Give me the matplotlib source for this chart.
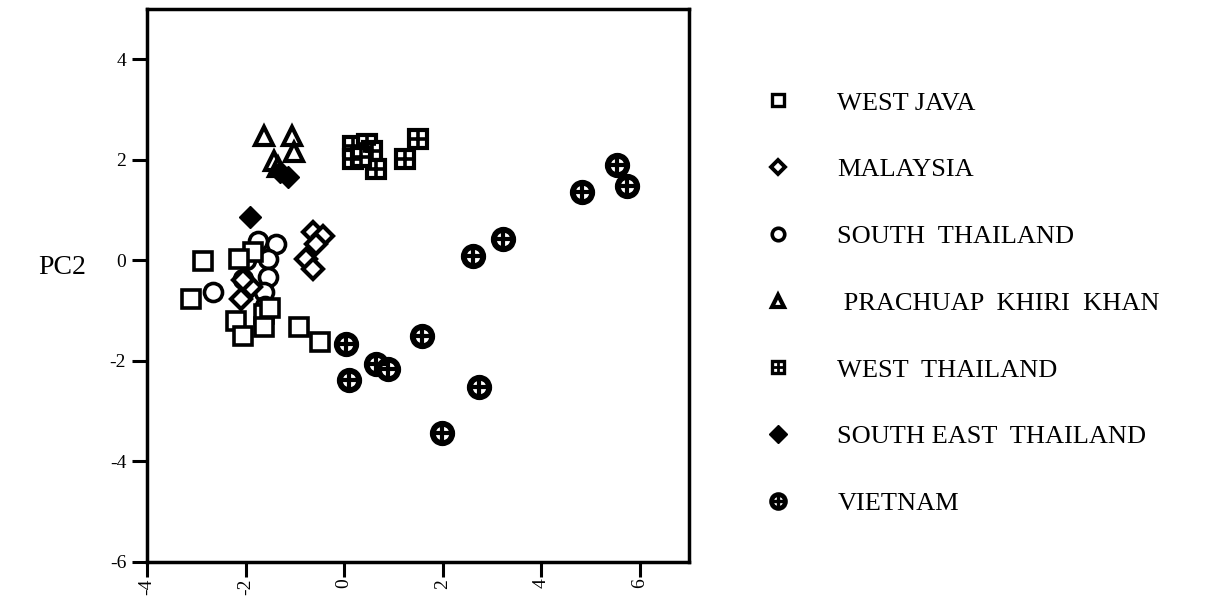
import matplotlib
matplotlib.use("Agg")
import matplotlib.pyplot as plt
from matplotlib.lines import Line2D

plt.rcParams['font.family'] = ['Liberation Serif', 'DejaVu Serif']
plt.rcParams['axes.unicode_minus'] = False

# PCA scores (PC1, PC2)
west_java_x = [-2.87, -3.11, -1.85, -2.14, -2.20, -2.06, -1.63, -1.63, -1.50, -0.92, -0.48]
west_java_y = [-0.01, -0.77, 0.17, 0.03, -1.21, -1.51, -1.07, -1.33, -0.95, -1.33, -1.63]

malaysia_x = [-0.64, -0.42, -0.58, -0.78, -0.64, -1.89, -2.10, -2.05]
malaysia_y = [0.57, 0.49, 0.33, 0.03, -0.17, -0.53, -0.77, -0.40]

south_thailand_x = [-1.75, -1.39, -1.55, -2.06, -1.55, -1.63, -2.66, -2.00, -1.60]
south_thailand_y = [0.39, 0.33, 0.03, -0.37, -0.33, -0.63, -0.63, 0.00, -0.90]

prachuap_x = [-1.63, -1.06, -1.02, -1.43, -1.35]
prachuap_y = [2.48, 2.48, 2.16, 1.98, 1.86]

west_thailand_x = [0.19, 0.19, 0.47, 0.57, 0.64, 1.24, 1.51, 0.35]
west_thailand_y = [2.28, 2.02, 2.32, 2.18, 1.82, 2.02, 2.42, 2.05]

se_thailand_x = [-1.13, -1.30, -1.91]
se_thailand_y = [1.66, 1.75, 0.87]

vietnam_x = [0.03, 0.09, 0.64, 0.90, 1.59, 2.74, 1.99, 2.62, 3.23, 4.83, 5.53, 5.74]
vietnam_y = [-1.67, -2.37, -2.07, -2.17, -1.51, -2.51, -3.43, 0.09, 0.43, 1.37, 1.90, 1.47]

tick_vals = [-6, -4, -2, 0, 2, 4, 6]
tick_text = ['-6', '-4', '-2', '0', '2', '4', '6']

labels = ["WEST JAVA", "MALAYSIA", "SOUTH  THAILAND", " PRACHUAP  KHIRI  KHAN",
          "WEST  THAILAND", "SOUTH EAST  THAILAND", "VIETNAM"]

fig = plt.figure(figsize=(12.22, 6.03), dpi=100)
ax = fig.add_axes([0.1203, 0.068, 0.4435, 0.917])

k = dict(linestyle='none', color='black', markerfacecolor='white', markeredgecolor='black')
ms = 13

ax.plot(south_thailand_x, south_thailand_y, marker='o', ms=ms, mew=2.6, **k)
ax.plot(malaysia_x, malaysia_y, marker='D', ms=10, mew=3.0, **k)
ax.plot(west_java_x, west_java_y, marker='s', ms=ms, mew=2.6, **k)
ax.plot(prachuap_x, prachuap_y, marker='^', ms=ms, mew=3.0, **k)
ax.plot(west_thailand_x, west_thailand_y, marker='s', ms=ms, mew=3.0, **k)
ax.plot(west_thailand_x, west_thailand_y, marker='+', ms=ms, mew=2.6, linestyle='none', color='black')
ax.plot(se_thailand_x, se_thailand_y, marker='D', ms=11, linestyle='none', color='black')
ax.plot(vietnam_x, vietnam_y, marker='o', ms=14, mew=4.2, **k)
ax.plot(vietnam_x, vietnam_y, marker='+', ms=14, mew=3.0, linestyle='none', color='black')

ax.set_xlim(-4, 7)
ax.set_ylim(-6, 5)
ax.set_xticks(tick_vals[1:])
ax.set_yticks(tick_vals[:-1])
ax.set_xticklabels(tick_text[1:], rotation=90)
ax.set_yticklabels(tick_text[:-1])
for s in ax.spines.values():
    s.set_linewidth(2.5)
ax.tick_params(direction='out', length=11, width=2.2, labelsize=14)
ax.tick_params(axis='x', pad=1)
ax.tick_params(axis='y', pad=4)

fig.text(62 / 1222, 1 - 268 / 603, 'PC2', ha='center', va='center', fontsize=20)

# legend handles, smaller than the plotted marks
lm = 9
handles = [
    Line2D([], [], marker='s', ms=lm, mew=2.4, **k),
    Line2D([], [], marker='D', ms=7, mew=2.8, **k),
    Line2D([], [], marker='o', ms=lm, mew=2.6, **k),
    Line2D([], [], marker='^', ms=lm, mew=3.0, **k),
    (Line2D([], [], marker='s', ms=lm, mew=2.4, **k),
     Line2D([], [], marker='+', ms=lm, mew=2.0, linestyle='none', color='black')),
    Line2D([], [], marker='D', ms=9, linestyle='none', color='black'),
    (Line2D([], [], marker='o', ms=10, mew=3.4, **k),
     Line2D([], [], marker='+', ms=10, mew=2.4, linestyle='none', color='black')),
]
leg = fig.legend(handles, labels, loc='upper left', bbox_to_anchor=(745 / 1222, 1 - 78 / 603),
                 frameon=False, fontsize=19, labelspacing=1.64, handlelength=1.5,
                 handletextpad=1.5, borderpad=0)

fig.savefig('out.png', dpi=100)
